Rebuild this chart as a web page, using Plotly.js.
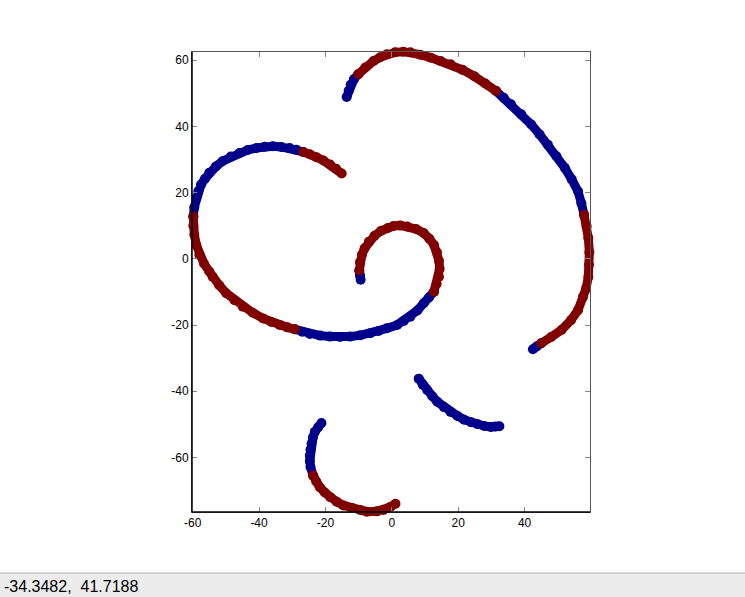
<!DOCTYPE html>
<html>
<head>
<meta charset="utf-8">
<script src="https://cdn.plot.ly/plotly-3.0.1.min.js"></script>
<style>
  html, body { margin: 0; padding: 0; background: #ffffff; }
  #chart { width: 745px; height: 597px; }
</style>
</head>
<body>
<div id="chart"></div>
<script>
// ---- Data ----
// Class 1 (dark blue) points; null separates the separate arcs
var blueX = [
  -13.6, -13.0, -12.4, -11.4, -10.1, null,
  31.4, 33.7, 35.9, 39.0, 42.0, 44.5, 47.0, 49.6, 52.1, 54.2, 56.1, 57.1, 57.9, null,
  45.0, 43.6, 42.5, null,
  -26.7, -28.8, -30.8, -33.3, -35.8, -38.3, -40.8, -43.4, -45.9, -48.5, -51.0, -53.0, -55.0, -56.3, -57.5, -58.3, -59.0, -59.5, -59.8, null,
  -29.2, -27.0, -24.7, -21.6, -18.6, -15.6, -12.6, -9.5, -6.5, -4.0, -1.5, 1.6, 3.6, 5.6, 7.7, 9.6, 11.2, 12.7, null,
  -9.8, -9.6, -9.4, null,
  8.1, 9.3, 10.7, 12.2, 13.7, 15.7, 17.7, 19.8, 21.8, 23.8, 25.8, 27.8, 29.8, 31.2, 32.4, null,
  -21.2, -22.2, -23.2, -23.8, -24.2, -24.5, -24.7, -24.7, -24.5, -23.7
];
var blueY = [
  48.9, 50.8, 52.6, 54.3, 55.8, null,
  50.7, 48.7, 46.7, 43.7, 40.6, 37.6, 34.5, 31.0, 27.5, 24.0, 20.4, 16.8, 13.3, null,
  -25.5, -26.5, -27.3, null,
  32.3, 33.0, 33.5, 33.8, 34.0, 33.9, 33.5, 32.9, 32.0, 30.9, 29.5, 27.9, 26.0, 24.2, 22.4, 20.4, 18.4, 15.6, 12.8, null,
  -21.3, -22.0, -22.7, -23.2, -23.5, -23.6, -23.5, -23.1, -22.5, -21.8, -21.0, -20.0, -18.8, -17.5, -15.6, -13.4, -11.7, -9.9, null,
  -3.5, -5.0, -6.3, null,
  -36.2, -38.0, -39.7, -41.5, -43.2, -44.8, -46.3, -47.5, -48.6, -49.4, -50.0, -50.5, -50.8, -50.7, -50.6, null,
  -49.6, -50.9, -52.3, -54.1, -55.9, -57.6, -59.4, -61.1, -62.9, -65.5
];

// Class 2 (dark red) points; null separates the separate arcs
var redX = [
  -10.1, -8.0, -5.5, -3.5, -1.5, 1.0, 3.5, 5.6, 8.5, 11.7, 14.7, 17.7, 21.3, 24.8, 28.2, 31.4, null,
  57.9, 58.7, 59.2, 59.5, 59.4, 59.2, 58.5, 57.6, 56.1, 54.0, 51.1, 48.0, 45.0, null,
  -15.1, -16.8, -18.6, -20.6, -22.7, -24.7, -26.7, null,
  -59.8, -59.8, -59.5, -58.9, -58.0, -56.6, -55.0, -54.0, -52.0, -49.9, -47.4, -44.9, -41.9, -38.8, -36.3, -33.8, -31.5, -29.2, null,
  12.7, 13.5, 14.2, 14.4, 14.2, 13.6, 12.7, 11.3, 9.6, 7.3, 4.6, 2.5, 0.5, -1.2, -3.2, -5.2, -6.9, -8.2, -9.0, -9.6, -9.8, null,
  -23.7, -22.8, -21.7, -20.2, -18.6, -16.6, -14.6, -12.0, -9.5, -7.5, -4.5, -2.5, -0.5, 1.1
];
var redY = [
  55.8, 57.8, 59.8, 60.9, 61.8, 62.4, 62.6, 62.4, 61.7, 60.8, 59.8, 58.8, 57.1, 55.2, 53.0, 50.7, null,
  13.3, 9.8, 6.3, 2.0, -1.8, -5.5, -9.0, -11.5, -15.5, -18.5, -21.5, -23.6, -25.5, null,
  25.8, 27.2, 28.5, 29.7, 30.7, 31.6, 32.3, null,
  12.8, 10.0, 7.3, 4.2, 1.2, -1.4, -3.8, -5.4, -8.0, -10.4, -12.5, -14.5, -16.3, -18.0, -19.1, -20.0, -20.7, -21.3, null,
  -9.9, -7.6, -5.4, -3.0, -0.6, 2.0, 4.2, 6.1, 7.8, 9.0, 9.8, 10.1, 9.9, 9.3, 8.5, 7.0, 5.2, 3.2, 1.2, -1.0, -3.5, null,
  -65.5, -67.3, -69.0, -70.6, -72.0, -73.4, -74.5, -75.3, -75.9, -76.4, -76.3, -75.9, -75.0, -74.0
];

// Tick labels
var xTickVals = [-60, -40, -20, 0, 20, 40];
var xTickText = ["-60", "-40", "-20", "0", "20", "40"];
var yTickVals = [-60, -40, -20, 0, 20, 40, 60];
var yTickText = ["-60", "-40", "-20", "0", "20", "40", "60"];

// Status line text
var statusText = "-34.3482,  41.7188";

// ---- Styles / geometry ----
var BLUE = "#00008b";
var RED = "#800000";
var W = 745, H = 597;
var ML = 180, MR = 143, MT = 40, MB = 73;      // outer (drawing) area
var PAD = 12;                                   // room for marks to spill past the frame
var PW = W - ML - MR, PH = H - MT - MB;         // 422 x 484
var XR = [-60.2, 59.7], YR = [-76.5, 62.5];     // visible axis ranges
var xScale = (PW - 2 * PAD) / (XR[1] - XR[0]);
var yScale = (PH - 2 * PAD) / (YR[1] - YR[0]);
var xPadU = PAD / xScale, yPadU = PAD / yScale;

function arcTrace(xs, ys, color) {
  return {
    type: "scatter",
    mode: "lines+markers",
    x: xs,
    y: ys,
    xaxis: "x",
    yaxis: "y",
    connectgaps: false,
    line: { color: color, width: 9 },
    marker: { color: color, size: 10, line: { width: 0 } },
    hoverinfo: "skip",
    showlegend: false
  };
}

var traces = [
  arcTrace(blueX, blueY, BLUE),
  arcTrace(redX, redY, RED),
  // empty trace that carries the visible framed axes
  { type: "scatter", mode: "markers", x: [], y: [], xaxis: "x2", yaxis: "y2",
    hoverinfo: "skip", showlegend: false }
];

var fontFamily = "Liberation Sans, Arial, Helvetica, sans-serif";

var hiddenAxis = { visible: false, showgrid: false, zeroline: false, fixedrange: true };

var axisCommon = {
  showgrid: false,
  zeroline: false,
  showline: true,
  linecolor: "#555555",
  linewidth: 1,
  mirror: "ticks",
  ticks: "inside",
  ticklen: 5,
  tickwidth: 1,
  tickcolor: "#888888",
  tickmode: "array",
  autorange: false,
  tickfont: { family: fontFamily, size: 12, color: "#000000" }
};

function px2paperX(px) { return (px - ML) / PW; }
function px2paperY(py) { return (H - MB - py) / PH; }

var layout = {
  width: W,
  height: H,
  margin: { l: ML, r: MR, t: MT, b: MB, pad: 0 },
  paper_bgcolor: "#ffffff",
  plot_bgcolor: "rgba(0,0,0,0)",
  showlegend: false,
  hovermode: false,
  // data axes (full area, invisible, same scale as the visible frame)
  xaxis: Object.assign({}, hiddenAxis, {
    domain: [0, 1], anchor: "y",
    range: [XR[0] - xPadU, XR[1] + xPadU]
  }),
  yaxis: Object.assign({}, hiddenAxis, {
    domain: [0, 1], anchor: "x",
    range: [YR[0] - yPadU, YR[1] + yPadU]
  }),
  // visible framed axes
  xaxis2: Object.assign({}, axisCommon, {
    domain: [PAD / PW, 1 - PAD / PW], anchor: "y2",
    range: XR,
    tickvals: xTickVals,
    ticktext: xTickText
  }),
  yaxis2: Object.assign({}, axisCommon, {
    domain: [PAD / PH, 1 - PAD / PH], anchor: "x2",
    range: YR,
    tickvals: yTickVals,
    ticktext: yTickText
  }),
  shapes: [
    // darker left and bottom frame lines
    { type: "line", xref: "paper", yref: "paper",
      x0: PAD / PW, x1: PAD / PW, y0: PAD / PH, y1: 1 - PAD / PH,
      line: { color: "#000000", width: 1.5 }, layer: "above" },
    { type: "line", xref: "paper", yref: "paper",
      x0: PAD / PW, x1: 1 - PAD / PW, y0: PAD / PH, y1: PAD / PH,
      line: { color: "#000000", width: 1.5 }, layer: "above" },
    // status bar
    { type: "rect", xref: "paper", yref: "paper",
      x0: px2paperX(-5), x1: px2paperX(W + 5), y0: px2paperY(H + 5), y1: px2paperY(573),
      fillcolor: "#ececec", line: { width: 0 }, layer: "below" },
    { type: "line", xref: "paper", yref: "paper",
      x0: px2paperX(-5), x1: px2paperX(W + 5), y0: px2paperY(573), y1: px2paperY(573),
      line: { color: "#c8c8c8", width: 1.5 }, layer: "below" }
  ],
  annotations: [
    { xref: "paper", yref: "paper", x: px2paperX(1.5), y: px2paperY(586.5),
      xanchor: "left", yanchor: "middle",
      text: statusText, showarrow: false,
      font: { family: fontFamily, size: 16, color: "#000000" } }
  ]
};

Plotly.newPlot("chart", traces, layout, { displayModeBar: false, staticPlot: true });
</script>
</body>
</html>
